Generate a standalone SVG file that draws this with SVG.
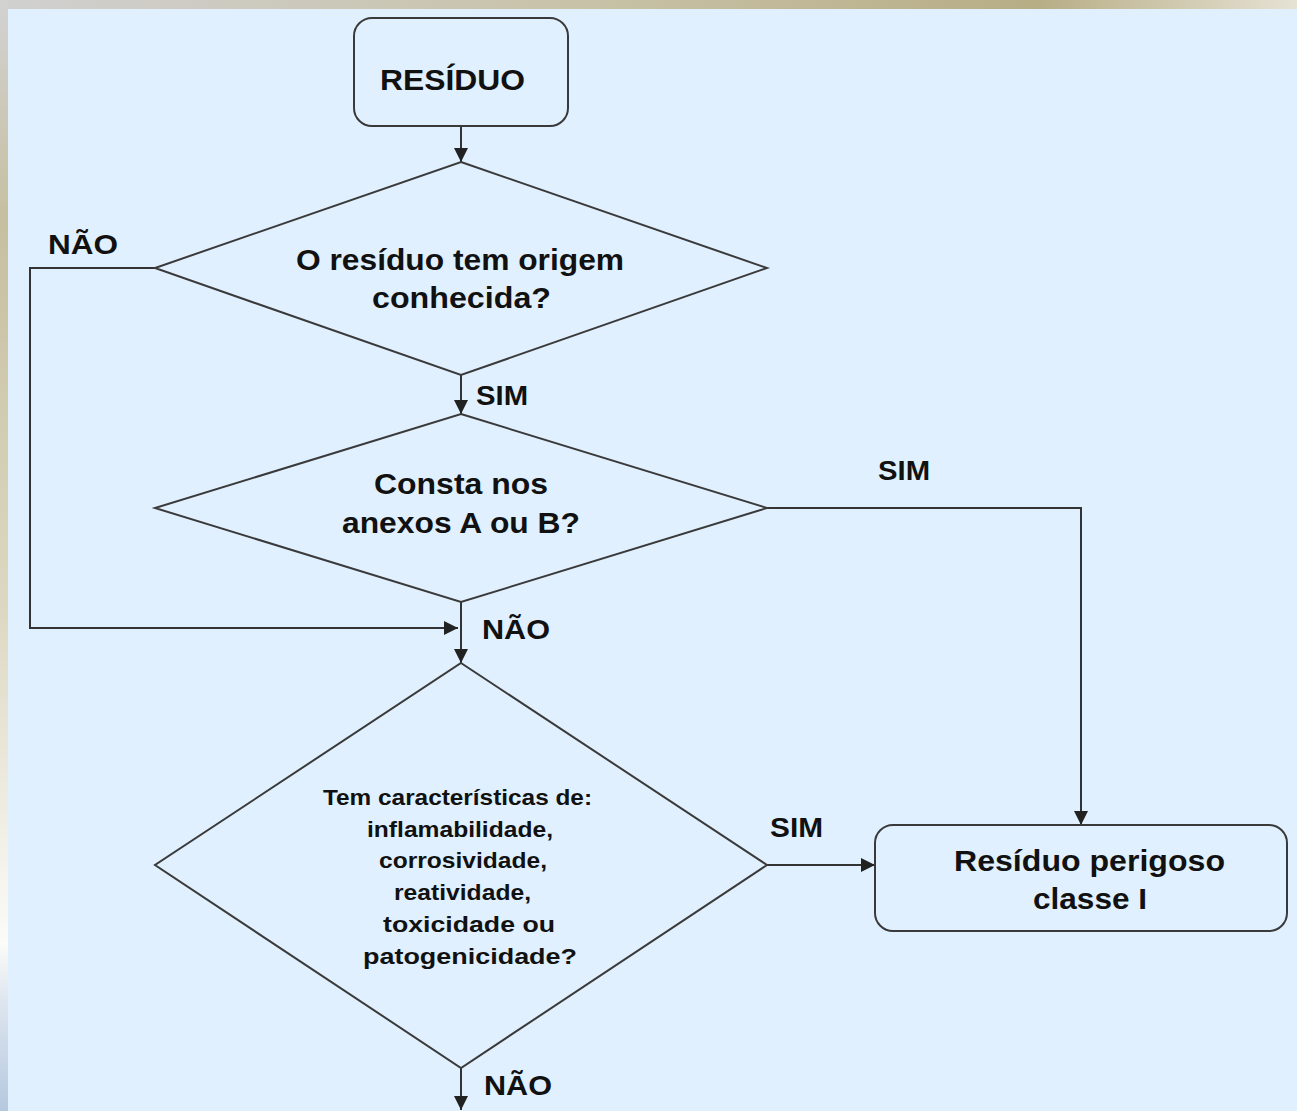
<svg xmlns="http://www.w3.org/2000/svg" width="1297" height="1111" viewBox="0 0 1297 1111">
  <defs>
    <linearGradient id="topBand" x1="0" y1="0" x2="1" y2="0">
      <stop offset="0" stop-color="#d0d0d0"/>
      <stop offset="0.45" stop-color="#c8c2a8"/>
      <stop offset="0.8" stop-color="#b7ad85"/>
      <stop offset="1" stop-color="#e6e2d4"/>
    </linearGradient>
    <linearGradient id="leftBand" x1="0" y1="0" x2="0" y2="1">
      <stop offset="0" stop-color="#d2d2d2"/>
      <stop offset="0.2" stop-color="#c6bfa0"/>
      <stop offset="0.55" stop-color="#ddd8c2"/>
      <stop offset="0.85" stop-color="#fbfbf8"/>
      <stop offset="0.9" stop-color="#dfe6ef"/>
      <stop offset="1" stop-color="#b5c8df"/>
    </linearGradient>
    <marker id="arrow" viewBox="0 0 10 10" refX="10" refY="5" markerWidth="14" markerHeight="14" markerUnits="userSpaceOnUse" orient="auto">
      <path d="M0,0 L10,5 L0,10 z" fill="#222"/>
    </marker>
    <style>
      .shape { fill: #e0f0fe; stroke: #3a3a3a; stroke-width: 2; }
      .edge { fill: none; stroke: #333; stroke-width: 2; }
      .lbl { font-family: "Liberation Sans", Arial, sans-serif; font-weight: bold; fill: #111; }
      .big { font-size: 29px; }
      .mid { font-size: 28px; }
      .small { font-size: 22.5px; }
    </style>
  </defs>

  <!-- page background -->
  <rect x="0" y="0" width="1297" height="1111" fill="#e0f0fe"/>
  <rect x="0" y="0" width="1297" height="9" fill="url(#topBand)"/>
  <rect x="0" y="0" width="8" height="1111" fill="url(#leftBand)"/>

  <!-- connectors -->
  <g id="connectors">
    <line class="edge" x1="461" y1="126" x2="461" y2="162" marker-end="url(#arrow)"/>
    <line class="edge" x1="461" y1="375" x2="461" y2="414" marker-end="url(#arrow)"/>
    <polyline class="edge" points="155,268 30,268 30,628 458,628" marker-end="url(#arrow)"/>
    <line class="edge" x1="461" y1="602" x2="461" y2="663" marker-end="url(#arrow)"/>
    <polyline class="edge" points="767,508 1081,508 1081,825" marker-end="url(#arrow)"/>
    <line class="edge" x1="767" y1="865" x2="875" y2="865" marker-end="url(#arrow)"/>
    <line class="edge" x1="461" y1="1068" x2="461" y2="1110" marker-end="url(#arrow)"/>

    <text class="lbl mid" x="48" y="254" textLength="70" lengthAdjust="spacingAndGlyphs">NÃO</text>
    <text class="lbl mid" x="476" y="405" textLength="52" lengthAdjust="spacingAndGlyphs">SIM</text>
    <text class="lbl mid" x="878" y="480" textLength="52" lengthAdjust="spacingAndGlyphs">SIM</text>
    <text class="lbl mid" x="482" y="639" textLength="68" lengthAdjust="spacingAndGlyphs">NÃO</text>
    <text class="lbl mid" x="770" y="837" textLength="53" lengthAdjust="spacingAndGlyphs">SIM</text>
    <text class="lbl mid" x="484" y="1095" textLength="68" lengthAdjust="spacingAndGlyphs">NÃO</text>
  </g>

  <!-- start -->
  <g id="residuo">
    <rect class="shape" x="354" y="18" width="214" height="108" rx="18"/>
    <text class="lbl big" x="380" y="90" textLength="145" lengthAdjust="spacingAndGlyphs">RESÍDUO</text>
  </g>

  <!-- decision: known origin -->
  <g id="origem">
    <polygon class="shape" points="461,162 767,268 461,375 155,268"/>
    <text class="lbl big" x="296" y="270" textLength="328" lengthAdjust="spacingAndGlyphs">O resíduo tem origem</text>
    <text class="lbl big" x="372" y="308" textLength="179" lengthAdjust="spacingAndGlyphs">conhecida?</text>
  </g>

  <!-- decision: annexes A or B -->
  <g id="anexos">
    <polygon class="shape" points="461,414 767,508 461,602 155,508"/>
    <text class="lbl big" x="374" y="494" textLength="174" lengthAdjust="spacingAndGlyphs">Consta nos</text>
    <text class="lbl big" x="342" y="533" textLength="238" lengthAdjust="spacingAndGlyphs">anexos A ou B?</text>
  </g>

  <!-- decision: hazardous characteristics -->
  <g id="caracteristicas">
    <polygon class="shape" points="461,663 767,865 461,1068 155,865"/>
    <g class="lbl small">
      <text x="323" y="805" textLength="269" lengthAdjust="spacingAndGlyphs">Tem características de:</text>
      <text x="367" y="837" textLength="186" lengthAdjust="spacingAndGlyphs">inflamabilidade,</text>
      <text x="379" y="868" textLength="168" lengthAdjust="spacingAndGlyphs">corrosividade,</text>
      <text x="394" y="900" textLength="137" lengthAdjust="spacingAndGlyphs">reatividade,</text>
      <text x="383" y="932" textLength="172" lengthAdjust="spacingAndGlyphs">toxicidade ou</text>
      <text x="363" y="964" textLength="214" lengthAdjust="spacingAndGlyphs">patogenicidade?</text>
    </g>
  </g>

  <!-- result -->
  <g id="perigoso">
    <rect class="shape" x="875" y="825" width="412" height="106" rx="18"/>
    <text class="lbl big" x="954" y="871" textLength="271" lengthAdjust="spacingAndGlyphs">Resíduo perigoso</text>
    <text class="lbl big" x="1033" y="909" textLength="114" lengthAdjust="spacingAndGlyphs">classe I</text>
  </g>
</svg>
